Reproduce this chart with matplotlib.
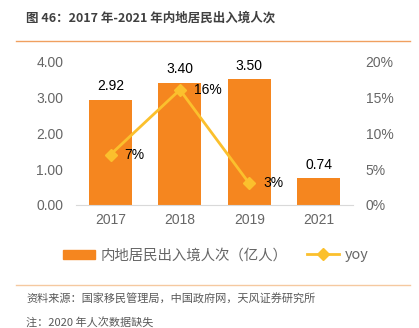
import matplotlib
matplotlib.use("Agg")
import matplotlib.pyplot as plt
from matplotlib.lines import Line2D

plt.rcParams['font.family'] = ['Liberation Sans', 'Noto Sans CJK SC', 'DejaVu Sans']

years = ['2017', '2018', '2019', '2021']
trips = [2.92, 3.40, 3.50, 0.74]          # 亿人次
yoy_years = ['2017', '2018', '2019']
yoy = [7, 16, 3]                          # %

bar_color = '#F5861F'
line_color = '#FBC02D'
tick_color = '#666666'

fig = plt.figure(figsize=(4.19, 3.28), dpi=100)
ax = fig.add_axes([0.181, 0.375, 0.662, 0.439])
ax2 = ax.twinx()

x = list(range(len(years)))
bars = ax.bar(x, trips, width=0.62, color=bar_color, zorder=2)
for xi, v in zip(x, trips):
    ax.text(xi, v + 0.18, f'{v:.2f}', ha='center', va='bottom', fontsize=10, color='black')

ax.set_xlim(-0.5, 3.5)
ax.set_ylim(0, 4)
ax.set_yticks([0, 1, 2, 3, 4])
ax.set_yticklabels([f'{t:.2f}' for t in [0, 1, 2, 3, 4]])
ax.set_xticks(x)
ax.set_xticklabels(years)

lx = [years.index(y) for y in yoy_years]
ax2.plot(lx, yoy, color=line_color, lw=2, marker='D', ms=6, zorder=3)
for xi, v in zip(lx, yoy):
    ax2.text(xi + 0.2, v, f'{v}%', ha='left', va='center', fontsize=10, color='black')
ax2.set_ylim(0, 20)
ax2.set_yticks([0, 5, 10, 15, 20])
ax2.set_yticklabels([f'{t}%' for t in [0, 5, 10, 15, 20]])

for a in (ax, ax2):
    for s in a.spines.values():
        s.set_visible(False)
    a.tick_params(length=0, colors=tick_color, labelsize=10, pad=9)
ax.spines['bottom'].set_visible(True)
ax.spines['bottom'].set_color('#D9D9D9')
ax.tick_params(axis='x', pad=6)

handles = [
    plt.Rectangle((0, 0), 1, 1, color=bar_color),
    Line2D([0], [0], color=line_color, lw=2, marker='D', ms=6),
]
fig.legend(handles, ['内地居民出入境人次（亿人）', 'yoy'], loc='center',
           bbox_to_anchor=(0.515, 0.222), ncol=2, frameon=False,
           labelcolor=tick_color, handlelength=2.2, handleheight=0.6,
           handletextpad=0.4, columnspacing=1.4,
           prop={'family': ['Noto Sans CJK SC'], 'size': 10.4})

fig.text(0.062, 0.945, '图 46：2017 年-2021 年内地居民出入境人次', fontsize=9,
         fontweight='bold', color='#404040', va='center',
         family=['Noto Sans CJK SC'])
fig.add_artist(Line2D([0.038, 0.978], [0.875, 0.875], color='#F0A060', lw=1))
fig.add_artist(Line2D([0.038, 0.978], [0.131, 0.131], color='#F5C9A0', lw=1))
fig.text(0.062, 0.088, '资料来源：国家移民管理局，中国政府网，天风证券研究所', fontsize=8,
         color='#595959', va='center', family=['Noto Sans CJK SC'])
fig.text(0.062, 0.018, '注：2020 年人次数据缺失', fontsize=8,
         color='#595959', va='center', family=['Noto Sans CJK SC'])

fig.savefig('out.png', dpi=100)
